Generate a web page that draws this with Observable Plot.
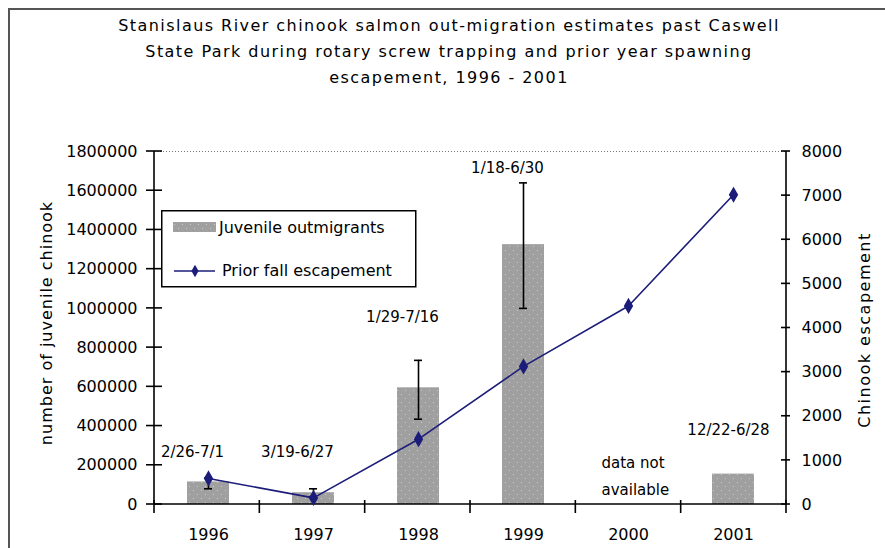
<!DOCTYPE html>
<html><head><meta charset="utf-8">
<script src="https://cdn.jsdelivr.net/npm/d3@7"></script>
<script src="https://cdn.jsdelivr.net/npm/@observablehq/plot@0.6"></script>
<style>
body{margin:0;background:#fff;font-family:"DejaVu Sans",sans-serif;}
#wrap{position:relative;width:885px;height:548px;overflow:hidden;background:#fff;}
#border{position:absolute;left:8px;top:8px;width:900px;height:600px;border-left:2px solid #555;border-top:2px solid #555;}
#title{position:absolute;left:16px;top:13px;width:866px;text-align:center;font-size:16px;line-height:26px;letter-spacing:1.45px;color:#000;}
#chart{position:absolute;left:0;top:120px;}
#legend{position:absolute;left:161px;top:210px;}
</style></head><body>
<svg width="0" height="0" style="position:absolute"><defs>
<pattern id="dots" width="8" height="8" patternUnits="userSpaceOnUse">
<rect width="8" height="8" fill="#a0a0a0"/><rect x="1" y="2" width="1" height="1" fill="#cacaca"/><rect x="5" y="6" width="1" height="1" fill="#cacaca"/>
</pattern></defs></svg>
<div id="wrap"><div id="border"></div>
<div id="title">Stanislaus River chinook salmon out-migration estimates past Caswell<br>State Park during rotary screw trapping and prior year spawning<br>escapement, 1996 - 2001</div>
<div id="chart"></div><div id="legend"></div></div>
<script>
const years = ["1996", "1997", "1998", "1999", "2000", "2001"];
const juveniles = [115000, 60000, 595000, 1325000, null, 155000];
const errLow = [80000, 40000, 435000, 1000000, null, null];
const errHigh = [135000, 80000, 735000, 1640000, null, null];
const escapement = [590, 150, 1480, 3130, 4500, 7020];
const leftTicks = [0, 200000, 400000, 600000, 800000, 1000000, 1200000, 1400000, 1600000, 1800000];
const rightTicks = [0, 1000, 2000, 3000, 4000, 5000, 6000, 7000, 8000];
const dateLabels = ["2/26-7/1", "3/19-6/27", "1/29-7/16", "1/18-6/30", null, "12/22-6/28"];
const dateLabelY = [266000, 266000, 955000, 1715000, null, 377000];
const noteLabel = ["data not\navailable"];
const noteYear = ["2000"];
const noteY = [160000];
const seriesNames = ["Juvenile outmigrants", "Prior fall escapement"];
const yTitleLeft = "number of juvenile chinook";
const yTitleRight = "Chinook escapement";

const yMax = 1800000, rMax = 8000, k = yMax / rMax;
const rows = years.map((year, i) => ({year, juv: juveniles[i], lo: errLow[i], hi: errHigh[i], esc: escapement[i] * k,
  label: dateLabels[i], ly: dateLabelY[i]}));
const navy = "#1c1c7a";

function frameAndTicks(index, scales, values, dim) {
  const {width, height, marginLeft: ml, marginRight: mr, marginTop: mt, marginBottom: mb} = dim;
  const x0 = ml, x1 = width - mr, y0 = mt, y1 = height - mb;
  const g = d3.create("svg:g").attr("fill", "none");
  g.append("line").attr("x1", x0).attr("x2", x1).attr("y1", y0 + 0.5).attr("y2", y0 + 0.5).attr("stroke", "#777").attr("stroke-dasharray", "1,2");
  const s = g.append("g").attr("stroke", "#000").attr("stroke-width", 1.6);
  s.append("line").attr("x1", x0).attr("x2", x0).attr("y1", y0).attr("y2", y1);
  s.append("line").attr("x1", x1).attr("x2", x1).attr("y1", y0).attr("y2", y1);
  s.append("line").attr("x1", x0).attr("x2", x1).attr("y1", y1).attr("y2", y1);
  const n = years.length, step = (x1 - x0) / n;
  for (let i = 0; i <= n; i++) s.append("line").attr("x1", x0 + i * step).attr("x2", x0 + i * step).attr("y1", y1 - 4).attr("y2", y1 + 9);
  for (const t of leftTicks) { const y = scales.y(t); s.append("line").attr("x1", x0 - 8).attr("x2", x0 + 8).attr("y1", y).attr("y2", y); }
  for (const t of rightTicks) { const y = scales.y(t * k); s.append("line").attr("x1", x1 - 5).attr("x2", x1 + 4).attr("y1", y).attr("y2", y); }
  return g.node();
}

const plot = Plot.plot({
  width: 885, height: 428,
  marginLeft: 154, marginRight: 99, marginTop: 31, marginBottom: 44,
  style: {fontFamily: "DejaVu Sans, sans-serif", fontSize: "16px", color: "#000", background: "transparent", overflow: "visible"},
  x: {type: "band", domain: years, paddingInner: 0.6, paddingOuter: 0.3, label: null},
  y: {domain: [0, yMax], label: null},
  marks: [
    Plot.barY(rows, {x: "year", y: "juv", fill: "url(#dots)"}),
    frameAndTicks,
    Plot.ruleX(rows, {x: "year", y1: "lo", y2: "hi", stroke: "#000", strokeWidth: 1.6}),
    Plot.tickY(rows, {x: "year", y: "lo", stroke: "#000", strokeWidth: 1.6, insetLeft: 17, insetRight: 17}),
    Plot.tickY(rows, {x: "year", y: "hi", stroke: "#000", strokeWidth: 1.6, insetLeft: 17, insetRight: 17}),
    Plot.line(rows, {x: "year", y: "esc", stroke: navy, strokeWidth: 1.6}),
    Plot.dot(rows, {x: "year", y: "esc", symbol: "diamond", r: 4, fill: navy, stroke: navy}),
    Plot.text(rows.slice(0, 4), {x: "year", y: "ly", text: "label", dx: -16, fontSize: 15}),
    Plot.text(rows.slice(5), {x: "year", y: "ly", text: "label", dx: -5, fontSize: 15}),
    Plot.text(noteLabel, {x: noteYear, y: noteY, text: d => d, textAnchor: "start", dx: -27, fontSize: 15, lineHeight: 1.75}),
    Plot.axisY(leftTicks, {anchor: "left", tickSize: 0, tickPadding: 17, tickFormat: d3.format("d"), label: null}),
    Plot.axisY(rightTicks.map(v => v * k), {anchor: "right", tickSize: 0, tickPadding: 15, tickFormat: d => String(Math.round(d / k)), label: null}),
    Plot.axisX({anchor: "bottom", tickSize: 0, tickPadding: 24, label: null}),
    Plot.text([yTitleLeft], {frameAnchor: "left", textAnchor: "middle", text: d => d, rotate: -90, dx: -108, dy: -5, fontSize: 16}),
    Plot.text([yTitleRight], {frameAnchor: "right", textAnchor: "middle", text: d => d, rotate: -90, dx: 78, dy: 2, fontSize: 16})
  ]
});
d3.select(plot).selectAll("text").filter(function() { return this.textContent === yTitleLeft; }).attr("letter-spacing", 1);
d3.select(plot).selectAll("text").filter(function() { return this.textContent === yTitleRight; }).attr("letter-spacing", 1.5);
document.getElementById("chart").appendChild(plot);

// legend
const lg = d3.select("#legend").append("svg").attr("width", 256).attr("height", 78)
  .style("font-family", "DejaVu Sans, sans-serif").style("font-size", "16px");
lg.append("rect").attr("x", 0.75).attr("y", 0.75).attr("width", 254).attr("height", 76).attr("fill", "#fff").attr("stroke", "#000").attr("stroke-width", 1.5);
lg.append("rect").attr("x", 12).attr("y", 12).attr("width", 43).attr("height", 10).attr("fill", "url(#dots)");
lg.append("text").attr("x", 58).attr("y", 18).attr("dominant-baseline", "middle").text(seriesNames[0]);
lg.append("line").attr("x1", 13).attr("x2", 54).attr("y1", 61).attr("y2", 61).attr("stroke", navy).attr("stroke-width", 1.6);
lg.append("path").attr("d", d3.symbol(d3.symbolDiamond, 45)()).attr("transform", "translate(34,61)").attr("fill", navy);
lg.append("text").attr("x", 61).attr("y", 61).attr("dominant-baseline", "middle").text(seriesNames[1]);
</script>
</body></html>
